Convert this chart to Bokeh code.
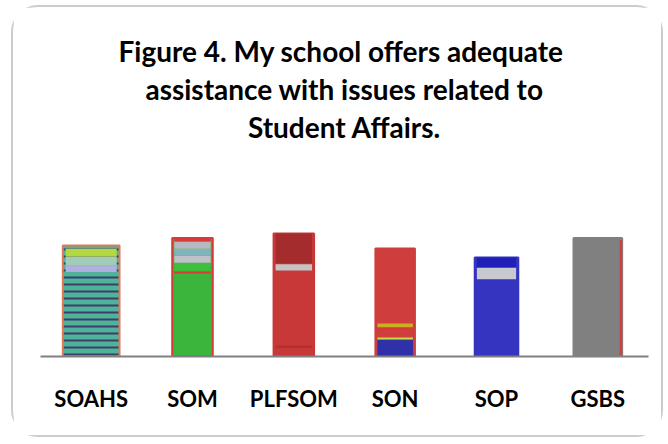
from bokeh.plotting import figure
from bokeh.models import ColumnDataSource, Range1d, FactorRange, Title
from bokeh.transform import dodge
from bokeh.embed import file_html
from bokeh.resources import INLINE

# ---- data ----
schools = ["SOAHS", "SOM", "PLFSOM", "SON", "SOP", "GSBS"]
values = [74, 79, 82, 72, 66, 79]
title_lines = ["Figure 4.  My school offers adequate",
               "assistance with issues related to",
               "Student Affairs."]

# ---- styles ----
bar_widths = [0.56, 0.40, 0.40, 0.39, 0.43, 0.48]
base_colors = ["#4fb39a", "#3bb53b", "#c83838", "#cf3d3d", "#3434c0", "#808080"]
outline_colors = ["#e07a5a", "#d83a3a", "#c83838", "#cf3d3d", "#3434c0", "#808080"]
hatches = ["horizontal_line", " ", " ", " ", " ", " "]
# decorative bands: (lower fraction, upper fraction, colour) of each bar
bands = {
    "SOAHS": [(0.76, 0.82, "#b0b0e0"), (0.82, 0.90, "#a0ccb8"), (0.90, 0.97, "#b4d840")],
    "SOM": [(0.70, 0.72, "#d83a3a"), (0.72, 0.79, "#3cbf3c"), (0.79, 0.85, "#c0c0c8"),
            (0.85, 0.91, "#80b4bc"), (0.91, 0.97, "#b8b8c0"), (0.97, 1.0, "#d83a3a")],
    "PLFSOM": [(0.70, 0.75, "#c4c4c4"), (0.755, 1.0, "#a52c2c"), (0.07, 0.09, "#b03030")],
    "SON": [(0.0, 0.157, "#3030a8"), (0.157, 0.176, "#c0e040"),
            (0.26, 0.27, "#e03030"), (0.27, 0.306, "#c8b020")],
    "SOP": [(0.78, 0.90, "#c8c8d0"), (0.90, 1.0, "#2020b8")],
    "GSBS": [],
}

FONT = "Lato"

p = figure(x_range=FactorRange(*schools, range_padding=0),
           y_range=Range1d(0, 141.3),
           width=652, height=432, title=None,
           output_backend="svg", toolbar_location=None,
           min_border_left=27, min_border_right=17,
           min_border_top=137, min_border_bottom=83)

for line in reversed(title_lines):
    p.add_layout(Title(text=line, align="center", text_font=FONT,
                       text_font_size="28px", text_font_style="bold",
                       text_color="#000000", standoff=2), "above")

src = ColumnDataSource(dict(x=schools, top=values, w=bar_widths, fill=base_colors,
                            line=outline_colors, hatch=hatches))
p.vbar(x="x", top="top", bottom=0, width="w", source=src, fill_color="fill",
       line_color="line", line_width=2, hatch_pattern="hatch",
       hatch_color="#3a1f5c", hatch_scale=7, hatch_weight=2, hatch_alpha=0.8)

bx, bb, bt, bw, bc = [], [], [], [], []
for s, v, w in zip(schools, values, bar_widths):
    for lo, hi, c in bands[s]:
        bx.append(s); bb.append(v * lo); bt.append(v * hi); bw.append(w * 0.9); bc.append(c)
bsrc = ColumnDataSource(dict(x=bx, bottom=bb, top=bt, w=bw, c=bc))
p.vbar(x="x", bottom="bottom", top="top", width="w", source=bsrc,
       fill_color="c", line_color=None)

# red right edge of the GSBS bar
edge = ColumnDataSource(dict(x=[schools[-1]], top=[values[-1] * 0.98]))
p.vbar(x=dodge("x", bar_widths[-1] / 2 - 0.012, range=p.x_range), top="top", bottom=0,
       width=0.025, source=edge, fill_color="#d04040", line_color=None)

p.yaxis.visible = False
p.xgrid.visible = False
p.ygrid.visible = False
p.outline_line_color = None
p.xaxis.axis_line_color = "#808080"
p.xaxis.axis_line_width = 2
p.xaxis.major_tick_line_color = None
p.xaxis.minor_tick_line_color = None
p.xaxis.major_label_standoff = 22
p.xaxis.major_label_text_font = FONT
p.xaxis.major_label_text_font_size = "22px"
p.xaxis.major_label_text_font_style = "bold"
p.xaxis.major_label_text_color = "#000000"

p.styles = {"border": "2px solid #cccccc", "border-radius": "27px",
            "margin-left": "11px", "margin-top": "5px"}

open("out.html", "w").write(file_html(p, INLINE))
